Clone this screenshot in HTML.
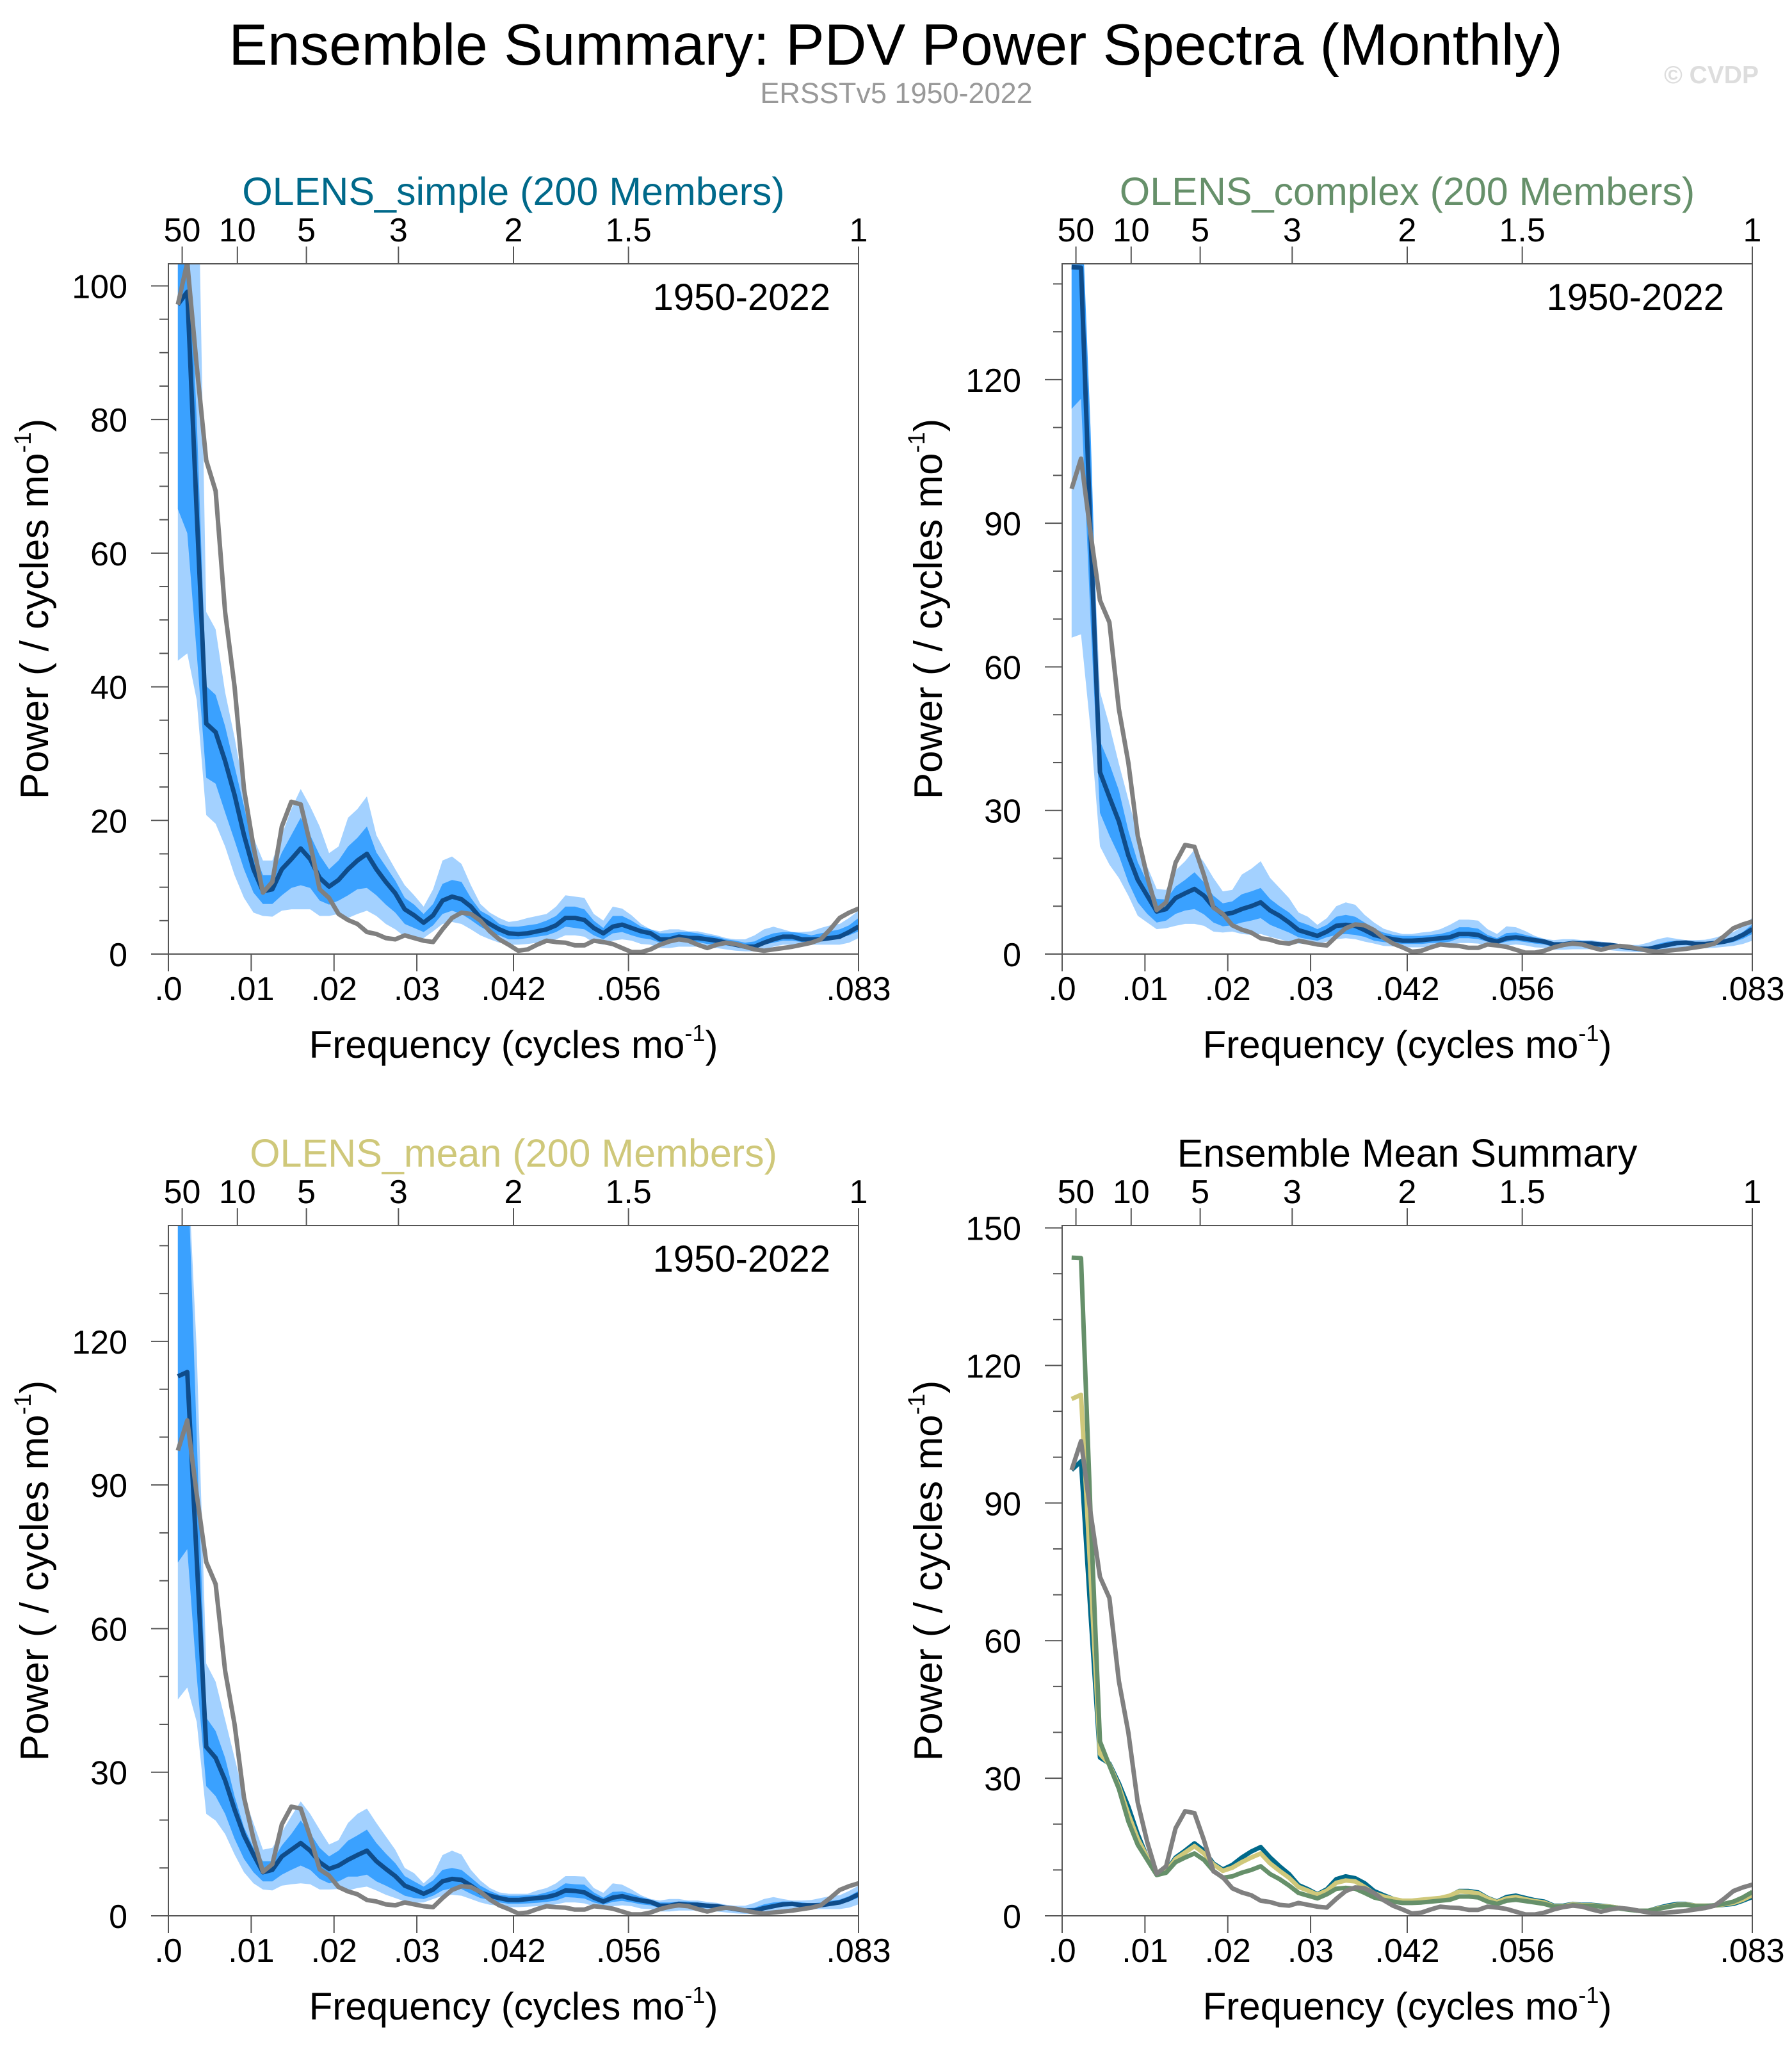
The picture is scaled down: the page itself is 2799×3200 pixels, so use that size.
<!DOCTYPE html>
<html><head><meta charset="utf-8"><title>Ensemble Summary: PDV Power Spectra</title>
<style>
html,body{margin:0;padding:0;background:#fff;}
svg{display:block;font-family:"Liberation Sans",Arial,sans-serif;}
</style></head>
<body>
<svg id="chart" width="2799" height="3200" viewBox="0 0 2799 3200" xmlns="http://www.w3.org/2000/svg">
<rect width="2799" height="3200" fill="#fff"/>
<text x="1399" y="101" font-size="91" text-anchor="middle" fill="#000">Ensemble Summary: PDV Power Spectra (Monthly)</text>
<text x="1400" y="161" font-size="45" text-anchor="middle" fill="#999">ERSSTv5 1950-2022</text>
<text x="2747" y="130" font-size="39" font-weight="bold" text-anchor="end" fill="#ddd">© CVDP</text>
<g id="panels"></g>
</svg>
<script>
const nMonths = 876;
const obs = [97.2,103.5,88,73.9,69.3,51.2,40,24.7,16.1,9.2,10.8,19.1,22.8,22.4,16.5,9.7,8.4,6,5.1,4.5,3.3,3,2.4,2.2,2.8,2.4,2,1.8,3.7,5.4,6.2,6,5,3.4,2.2,1.4,0.5,0.7,1.4,2,1.8,1.7,1.3,1.3,2,1.8,1.5,0.9,0.3,0.3,0.7,1.4,1.9,2.2,2,1.4,0.9,1.4,1.7,1.5,1.1,0.7,0.5,0.7,0.9,1.1,1.4,1.7,2.2,3.7,5.4,6.2,6.8];

const simpleMean = [97.2,99.1,66,34.5,33.2,28.9,23.8,17.8,12.7,9.4,9.7,12.7,14.2,15.8,14.2,11.4,10.1,11.1,12.7,14,15,12.7,10.8,9.1,6.7,5.8,4.7,5.8,8,8.6,8.2,7.1,5.4,4.5,3.7,3.1,3,3.1,3.4,3.7,4.3,5.4,5.4,5.1,3.9,3.1,4.1,4.4,3.9,3.4,3.1,2.2,2.2,2.6,2.4,2.4,2.2,2,1.7,1.4,1.1,1.1,1.7,2.2,2.6,2.6,2.2,2.2,2.2,2.4,2.6,3.3,4.1];
const simpleLo90 = [43.9,45,38,20.8,19.5,16.1,11.8,8.4,6.2,5.7,5.6,6.5,6.7,6.7,6.7,5.7,5.7,6,5.4,6,6.5,5.7,4.5,3.7,2.6,2.2,2.4,3.4,4.5,4.8,4.5,3.7,2.8,2.2,1.7,1.4,1.4,1.5,1.7,2,2.2,2.8,2.8,2.6,1.7,1.4,2,2.2,2,1.5,1.4,0.9,0.9,1.1,1.1,1.1,0.9,0.9,0.7,0.5,0.4,0.4,0.7,1.1,1.4,1.4,1.4,1.4,1.4,1.4,1.4,1.7,2.4];
const simpleHi90 = [150,150,130,51.2,48.6,39.2,32.4,24.7,17.4,14,14,17.8,21.7,24.7,22.1,19.1,15.1,16.1,20.4,21.7,23.6,17.8,15.2,12.7,10.3,8.8,7.1,9.7,14,14.6,13.5,10.3,7.5,6.2,5.4,4.8,5,5.4,5.7,6,7.1,8.8,8.6,8.4,6,5,7.1,6.8,5.8,4.5,3.7,3.4,3.7,3.7,3.4,3.4,3.1,2.8,2.4,2.2,2.2,2.8,3.7,4.1,3.7,3.3,3.3,3.4,3.9,4.3,4.5,5.4,6.5];
const simpleHi75 = [112,112,80,40.1,38.8,34.1,28.1,22.1,15.7,11.8,11.8,15.2,17.8,20.4,17.8,14.8,12.7,14,16.1,17.4,19.1,15.2,13.1,11,8.4,7.4,6,7.5,10.5,11.1,10.8,8.4,6.5,5.7,4.5,4.1,4.1,4.3,4.5,5,5.7,7.1,7.1,6.7,5,3.9,5.7,5.7,5,4.1,3.7,3.1,3.1,3.3,3.3,3.1,2.8,2.6,2.2,2,1.7,1.9,2.6,3.1,3.3,3.3,3.1,2.8,3.1,3.4,3.7,4.3,5.4];
const simpleLo75 = [66.6,63,45,26.4,25.5,21.2,17,12.7,9.2,7.5,7.5,8.8,9.9,10.3,9.9,8,7.4,8,8.8,9.7,9.9,8.8,7.4,6.2,4.5,3.9,3.3,4.3,6,6.5,6,5.1,4.1,3.3,2.8,2.2,2.2,2.4,2.6,2.8,3.3,4.1,3.9,3.7,2.8,2.2,3.1,3.3,2.8,2.4,2.2,1.7,1.7,2,1.8,1.8,1.5,1.4,1.3,1.1,0.9,0.9,1.4,1.7,2,2,1.8,1.8,2,2.2,2.4,2.8,3.4];

const complexMean = [143.5,143.4,88,38,32.8,27.7,20.6,15.5,12.2,8.9,9.4,11.7,12.7,13.6,12.2,9.8,8.3,8.6,9.4,10,10.8,9.1,8,6.6,5,4.4,3.8,4.7,5.9,6.1,5.9,5,4,3.5,3.1,2.8,2.8,2.9,3.1,3.3,3.5,4.2,4.2,4,3.1,2.6,3.3,3.5,3.2,2.9,2.6,2,2,2.3,2.2,2.2,2,1.9,1.6,1.3,1.1,1.1,1.5,1.9,2.3,2.4,2.1,2.1,2.3,2.6,3.1,4,5.2];
const complexHi90 = [160,160,100,54.8,47.8,39.8,32.3,24.8,18.3,13.6,13.4,17.5,19.4,21.8,19.2,15.9,13.1,13.4,16.6,17.8,19.4,15.9,13.8,11.7,8.7,7.8,6.1,7.5,10,10.8,10.3,8.2,6.6,5.3,4.7,4.2,4.2,4.5,4.7,5.2,6.1,7.2,7.2,7,5.2,4.2,5.8,5.6,4.8,3.8,3.2,2.9,3.1,3.1,2.9,2.9,2.6,2.4,2.1,1.9,1.9,2.4,3.1,3.5,3.2,2.9,2.9,3,3.4,4,4.6,5.8,7.6];
const complexLo90 = [66.1,66.8,47,22.5,18.7,15.9,12.2,8,6.6,5.2,5.4,5.9,6.3,6.3,5.9,4.7,4.5,4.7,4.2,4,4.2,3.6,3.1,2.6,2.2,2.1,2.2,2.6,3.1,3.3,3.1,2.6,2.2,1.7,1.6,1.4,1.4,1.4,1.6,1.7,1.9,2.3,2.3,2.2,1.7,1.4,1.8,2,1.8,1.4,1.3,0.9,0.9,1,1,1,0.9,0.8,0.6,0.5,0.4,0.4,0.6,1,1.3,1.3,1.2,1.2,1.3,1.5,1.7,2.1,2.8];
const complexHi75 = [160,160,110,44.5,39.8,34.2,25.8,19.2,15,11.5,11.4,14.1,15.5,17.1,15,12.2,10.6,11,12.5,13.1,13.8,11.5,10,8.7,6.8,6.1,5.2,6.1,7.8,8.2,7.8,6.6,5.3,4.5,4,3.8,3.8,3.8,4,4.2,4.7,5.6,5.6,5.3,4,3.3,4.4,4.5,4,3.5,3.1,2.5,2.5,2.8,2.7,2.6,2.4,2.2,1.9,1.6,1.4,1.5,2.1,2.6,2.8,2.8,2.6,2.5,2.7,3,3.6,4.6,6.2];
const complexLo75 = [113.9,116,70,29.5,24.8,20.6,15,10.8,8.4,6.6,7,8.4,9.1,9.4,8.3,6.6,5.8,6,6.6,7,7.5,6.1,5.3,4.5,3.5,3.1,2.8,3.5,4,4.2,4,3.6,2.8,2.5,2.3,2.1,2.1,2.1,2.3,2.4,2.6,3.3,3.3,3.1,2.6,2.1,2.6,2.8,2.5,2.2,2,1.5,1.5,1.7,1.6,1.6,1.5,1.4,1.2,0.9,0.8,0.8,1.1,1.4,1.8,1.9,1.7,1.7,1.8,2.1,2.5,3.2,4.2];

const meanMean = [112.7,113.6,74.5,35.3,33,28.3,22.2,16.8,12.8,9.1,9.6,12.4,13.8,15.2,13.6,11.2,9.8,10.5,11.7,12.7,13.6,11.4,9.8,8.3,6.3,5.5,4.6,5.5,7.2,7.7,7.5,6.3,4.9,4.2,3.7,3.3,3.3,3.5,3.7,3.9,4.4,5.3,5.2,4.9,3.8,3,3.8,4.1,3.6,3.2,2.9,2.1,2.1,2.5,2.3,2.3,2.1,2,1.7,1.4,1.1,1.1,1.6,2,2.4,2.5,2.2,2.2,2.2,2.5,2.8,3.5,4.5];
const meanHi90 = [160,160,118,52.7,48.9,41,33,25,19.4,13.8,14.2,17.5,20.8,23.9,21.3,18,14.9,15.8,19.4,21.3,22.4,19.4,16.6,13.8,10,8.9,6.8,8.6,12.7,13.6,12.8,9.6,7.4,5.8,4.9,4.6,4.6,4.6,5.3,5.8,6.8,8.3,8.3,8.2,5.8,4.8,6.8,6.5,5.5,4.3,3.5,3.2,3.5,3.5,3.2,3.2,2.9,2.7,2.3,2.1,2.1,2.7,3.5,3.9,3.5,3.2,3.2,3.3,3.7,4.1,4.3,5.2,6.3];
const meanLo90 = [45.2,47.7,40.5,21.3,19.9,17.1,12.8,9.1,6.8,5.5,5.3,6.3,6.6,6.8,6.6,5.5,5.5,5.6,5.3,5.8,6.1,5.3,4.4,3.7,3,2.7,2.8,3.5,4.2,4.4,4.2,3.5,2.8,2.3,2.1,1.8,1.8,1.9,2,2.2,2.4,2.8,2.8,2.6,2,1.5,2,2.2,2,1.5,1.4,0.9,0.9,1.1,1.1,1.1,0.9,0.9,0.7,0.5,0.4,0.4,0.7,1.1,1.4,1.4,1.4,1.4,1.4,1.4,1.4,1.7,2.4];
const meanHi75 = [160,160,100,41.4,38.6,33,25,18.5,14.2,11.4,11.4,14.7,17.1,19.9,17.3,14.2,12.4,13.6,15.7,16.8,18,15.2,13,11,8.3,7.2,6.1,7.4,9.6,10,9.6,8,6.3,5.2,4.4,4.2,4.2,4.3,4.4,4.9,5.5,6.8,6.6,6.5,4.9,3.8,5,5.1,4.6,3.9,3.4,2.8,2.8,3,3,2.8,2.6,2.4,2,1.8,1.5,1.7,2.4,2.8,3,3,2.8,2.6,2.8,3.1,3.4,4.1,5.2];
const meanLo75 = [73.8,76.6,50,27.1,25,21.3,16.1,11.9,9.1,7.2,7.2,8.6,9.6,10.5,9.6,7.7,6.8,7.2,8.2,8.2,8.6,7.2,6.3,5.3,4.2,3.7,3.5,4.2,5.3,5.8,5.6,4.6,3.7,3.3,2.8,2.5,2.5,2.6,2.7,2.9,3.2,3.9,3.8,3.6,2.8,2.3,2.9,3.1,2.8,2.4,2.2,1.6,1.6,1.9,1.8,1.8,1.6,1.5,1.3,1,0.9,0.9,1.3,1.6,1.9,2,1.8,1.8,1.9,2.1,2.4,3,3.8];

const bottomTickVals = [0, 0.01, 0.02, 0.03, 1/24, 1/18, 1/12];
const bottomTickLabels = [".0", ".01", ".02", ".03", ".042", ".056", ".083"];
const topPeriods = [50, 10, 5, 3, 2, 1.5, 1];
const topLabels = ["50", "10", "5", "3", "2", "1.5", "1"];

const NS = "http://www.w3.org/2000/svg";
const root = document.getElementById('panels');
const BOXW = 1078, BOXH = 1078;
const freqs = obs.map((v, i) => (i + 1) / nMonths);

function mk(tag, attrs, parent) {
  const e = document.createElementNS(NS, tag);
  for (const k in attrs) e.setAttribute(k, attrs[k]);
  parent.appendChild(e);
  return e;
}

function drawPanel(p, idx) {
  const g = mk('g', {}, root);
  
  
  const L = p.left, T = p.top, B = T + BOXH, R = L + BOXW;
  const xs = f => L + f / (1 / 12) * BOXW;
  const ys = v => B - v / p.ymax * BOXH;

  const cp = mk('clipPath', { id: 'clip' + idx }, g);
  mk('rect', { x: L, y: T, width: BOXW, height: BOXH }, cp);
  const dg = mk('g', { 'clip-path': 'url(#clip' + idx + ')' }, g);

  function band(hi, lo, color, nm) {
    let d = '';
    freqs.forEach((f, i) => { d += (i ? 'L' : 'M') + xs(f).toFixed(1) + ',' + ys(hi[i]).toFixed(1); });
    for (let i = freqs.length - 1; i >= 0; i--) d += 'L' + xs(freqs[i]).toFixed(1) + ',' + ys(lo[i]).toFixed(1);
    const e = mk('path', { d: d + 'Z', fill: color, stroke: 'none' }, dg);
    
    
  }
  function line(vals, color, nm, w) {
    let d = '';
    freqs.forEach((f, i) => { d += (i ? 'L' : 'M') + xs(f).toFixed(1) + ',' + ys(vals[i]).toFixed(1); });
    const e = mk('path', { d: d, fill: 'none', stroke: color, 'stroke-width': w, 'stroke-linejoin': 'round' }, dg);
    
    
  }

  if (p.bands) {
    band(p.bands.hi90, p.bands.lo90, '#a3d1ff', 'band-10-90');
    band(p.bands.hi75, p.bands.lo75, '#3aa1ff', 'band-25-75');
    line(p.bands.mean, '#0f4c8a', 'ensemble-mean-line', 7);
    line(obs, '#808080', 'observed-line', 7);
  } else {
    line(simpleMean, '#00698a', 'simple-mean-line', 7);
    line(meanMean, '#cfc87a', 'mean-mean-line', 7);
    line(complexMean, '#66906a', 'complex-mean-line', 7);
    line(obs, '#808080', 'observed-line', 7);
  }

  const box = mk('rect', { x: L, y: T, width: BOXW, height: BOXH, fill: 'none', stroke: '#555', 'stroke-width': 2 }, g);
  
  

  for (let v = 0; v <= p.ymax + 1e-9; v += p.minor) {
    const isMaj = Math.abs(v / p.major - Math.round(v / p.major)) < 1e-6;
    const y = ys(v);
    mk('line', { x1: L - (isMaj ? 27 : 14), x2: L, y1: y, y2: y, stroke: '#555', 'stroke-width': 2 }, g);
    if (isMaj) {
      const t = mk('text', { x: L - 64, y: y + 19, 'font-size': 52, 'text-anchor': 'end', fill: '#000' }, g);
      t.textContent = String(v);
      
      
    }
  }
  bottomTickVals.forEach((f, i) => {
    const x = xs(f);
    mk('line', { x1: x, x2: x, y1: B, y2: B + 27, stroke: '#555', 'stroke-width': 2 }, g);
    const t = mk('text', { x: x, y: B + 72, 'font-size': 52, 'text-anchor': 'middle', fill: '#000' }, g);
    t.textContent = bottomTickLabels[i];
    
    
  });
  topPeriods.forEach((P, i) => {
    const x = xs(1 / (12 * P));
    mk('line', { x1: x, x2: x, y1: T, y2: T - 27, stroke: '#555', 'stroke-width': 2 }, g);
    const t = mk('text', { x: x, y: T - 35, 'font-size': 52, 'text-anchor': 'middle', fill: '#000' }, g);
    t.textContent = topLabels[i];
    
    
  });

  const tt = mk('text', { x: L + BOXW / 2, y: T - 92, 'font-size': 61, 'text-anchor': 'middle', fill: p.titleColor }, g);
  tt.textContent = p.title;
  
  

  if (p.period) {
    const pt = mk('text', { x: R - 44, y: T + 72, 'font-size': 58, 'text-anchor': 'end', fill: '#000' }, g);
    pt.textContent = '1950-2022';
    
    
  }

  const xt = mk('text', { x: L + BOXW / 2, y: B + 162, 'font-size': 60, 'text-anchor': 'middle', fill: '#000' }, g);
  
  
  xt.appendChild(document.createTextNode('Frequency (cycles mo'));
  const s1 = mk('tspan', { 'font-size': 36, dy: -26 }, xt); s1.textContent = '-1';
  const s2 = mk('tspan', { dy: 26 }, xt); s2.textContent = ')';

  const cy = T + BOXH / 2, cx = L - 188;
  const yt = mk('text', { x: cx, y: cy, 'font-size': 62, 'text-anchor': 'middle', fill: '#000', transform: 'rotate(-90 ' + cx + ' ' + cy + ')' }, g);
  
  
  yt.appendChild(document.createTextNode('Power ( / cycles mo'));
  const s3 = mk('tspan', { 'font-size': 37, dy: -27 }, yt); s3.textContent = '-1';
  const s4 = mk('tspan', { dy: 27 }, yt); s4.textContent = ')';
}

const panels = [
  { name: 'panel-olens-simple', left: 263, top: 412, ymax: 103.3, major: 20, minor: 5, title: 'OLENS_simple (200 Members)', titleColor: '#00698a', period: true,
    bands: { mean: simpleMean, hi90: simpleHi90, lo90: simpleLo90, hi75: simpleHi75, lo75: simpleLo75 } },
  { name: 'panel-olens-complex', left: 1659, top: 412, ymax: 144.2, major: 30, minor: 10, title: 'OLENS_complex (200 Members)', titleColor: '#66906a', period: true,
    bands: { mean: complexMean, hi90: complexHi90, lo90: complexLo90, hi75: complexHi75, lo75: complexLo75 } },
  { name: 'panel-olens-mean', left: 263, top: 1914, ymax: 144.2, major: 30, minor: 10, title: 'OLENS_mean (200 Members)', titleColor: '#cfc87a', period: true,
    bands: { mean: meanMean, hi90: meanHi90, lo90: meanLo90, hi75: meanHi75, lo75: meanLo75 } },
  { name: 'panel-ensemble-mean-summary', left: 1659, top: 1914, ymax: 150.5, major: 30, minor: 10, title: 'Ensemble Mean Summary', titleColor: '#000', period: false, bands: null }
];
panels.forEach(drawPanel);
</script>
</body></html>
